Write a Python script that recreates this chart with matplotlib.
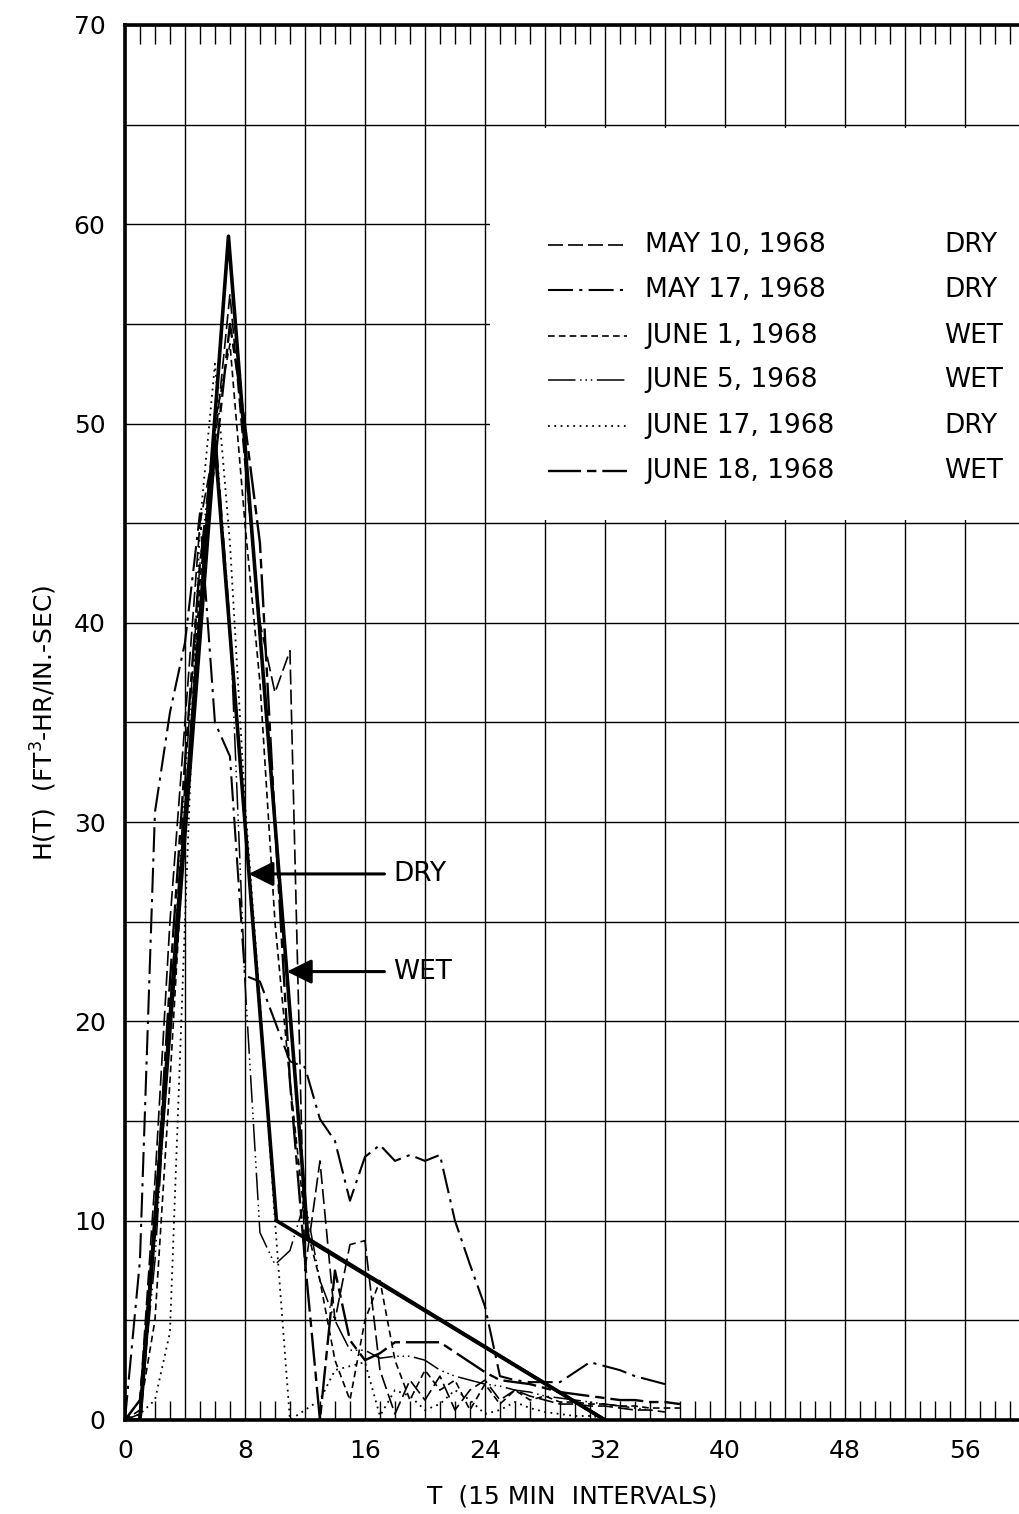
import numpy as np
import matplotlib
matplotlib.use("Agg")
import matplotlib.pyplot as plt
from matplotlib.patches import Rectangle
from matplotlib.ticker import MultipleLocator

# storm hydrographs, ordinates at each 15 min interval
may10 = [0, 1, 12, 25, 35, 45, 49, 56.5, 48, 40, 36.5, 38.6, 7.5, 13, 5, 8.8, 9, 2.5,
         0.3, 2, 1, 2.2, 0.5, 1.5, 2, 1, 1.5, 1.2, 1, 0.8, 0.8, 0.7, 0.7, 0.6, 0.5, 0.5, 0.4]
may17 = [0, 8, 30.5, 35.5, 39, 45.5, 35, 33.3, 22.3, 22, 20, 18, 17.7, 15.1, 14, 11, 13.2,
         13.8, 13, 13.3, 13, 13.3, 10, 7.8, 5.7, 2.2, 2, 1.9, 1.9, 1.9, 2.4, 2.9, 2.7, 2.5,
         2.2, 2, 1.8]
june1 = [0, 0.5, 5, 17, 30, 42, 50, 54, 45, 37, 25, 17, 10, 7, 3, 1, 5, 7, 3, 1, 2.5, 1.5,
         2, 0.5, 1.8, 0.8, 1.5, 1, 1.2, 0.9, 0.9, 0.8, 0.8, 0.7, 0.7, 0.6, 0.6, 0.6]
june5 = [0, 0.3, 8, 20, 32, 43, 50, 40, 22, 9.4, 7.8, 8.5, 11, 7, 5, 3.5, 3.5, 3.1, 3.2,
         3.2, 3, 2.5, 2.2, 2, 1.8, 1.7, 1.5, 1.4, 1.2, 1.1, 1, 0.9, 0.8, 0.7, 0.6, 0.5]
june17 = [0, 0.3, 1, 4.4, 25, 45, 53, 44, 31, 21, 10, 0, 0.5, 1, 2.5, 2.7, 2.9, 0.2, 1.5,
          1.2, 0.5, 0.8, 1.5, 1, 0.3, 0.5, 0.9, 0.6, 0.4, 0.3, 0.2, 0.2, 0.1]
june18 = [0, 1, 10, 22, 33, 43, 48, 55, 50, 44, 30, 17, 8, 0, 7.5, 4, 3, 3.35, 3.9, 3.9,
          3.9, 3.9, 3.4, 2.9, 2.4, 2, 1.9, 1.8, 1.6, 1.4, 1.3, 1.2, 1.1, 1, 1, 0.9, 0.9, 0.8]

# synthetic unit hydrographs
dry_t = [0, 1, 6, 10.1, 32]
dry_h = [0, 0, 49, 10, 0]
wet_t = [0, 1, 6.9, 12.2, 32]
wet_h = [0, 0, 59.4, 9.1, 0]

dates = ["MAY 10, 1968", "MAY 17, 1968", "JUNE 1, 1968", "JUNE 5, 1968",
         "JUNE 17, 1968", "JUNE 18, 1968"]
conds = ["DRY", "DRY", "WET", "WET", "DRY", "WET"]
series = [may10, may17, june1, june5, june17, june18]
dashes = [(9, 3), (12, 3, 1.5, 3), (4, 2.5), (18, 3, 1, 2.5, 1, 2.5, 1, 3),
          (1, 2.5), (14, 2.5, 4, 2.5)]
widths = [1.2, 1.5, 1.2, 1.1, 1.3, 1.7]

fig = plt.figure(figsize=(10.2, 15.14), dpi=100)
ax = fig.add_axes([0.1225, 0.0621, 0.8775, 0.9214])
ax.set_xlim(0, 59.67)
ax.set_ylim(0, 70)

# grid
ax.xaxis.set_major_locator(MultipleLocator(4))
ax.yaxis.set_major_locator(MultipleLocator(5))
ax.xaxis.set_minor_locator(MultipleLocator(1))
ax.set_xticklabels([f"{int(v)}" if v % 8 == 0 else "" for v in ax.get_xticks()])
ax.set_yticklabels([f"{int(v)}" if v % 10 == 0 else "" for v in ax.get_yticks()])
ax.grid(True, which="major", color="black", lw=1.0)
ax.set_axisbelow(True)
ax.tick_params(which="major", length=0, labelsize=18, pad=14)
ax.tick_params(which="minor", direction="in", length=14, width=1.0,
               top=True, bottom=True, left=False, right=False)
for s in ["left", "top", "bottom"]:
    ax.spines[s].set_linewidth(2.6)
ax.spines["right"].set_visible(False)

# blank panel behind the key
ax.add_patch(Rectangle((24.35, 45.15), 36, 19.7, facecolor="white",
                       edgecolor="none", zorder=1))

for h, d, w in zip(series, dashes, widths):
    t = np.arange(len(h))
    ax.plot(t, h, color="black", lw=w, dashes=d, zorder=3)

ax.plot(dry_t, dry_h, color="black", lw=2.6, zorder=4)
ax.plot(wet_t, wet_h, color="black", lw=2.6, zorder=4)

# key
key_y = [58.96, 56.7, 54.4, 52.2, 49.9, 47.6]
for y, d, w, date, c in zip(key_y, dashes, widths, dates, conds):
    ax.plot([28.2, 33.5], [y, y], color="black", lw=w, dashes=d, zorder=3)
    ax.text(34.7, y, date, fontsize=19, va="center", ha="left", zorder=3)
    ax.text(54.6, y, c, fontsize=19, va="center", ha="left", zorder=3)

# arrows to the unit hydrographs
arrow = dict(arrowstyle="-|>,head_length=0.6,head_width=0.3",
             mutation_scale=25, lw=2.2, color="black", shrinkA=0, shrinkB=0)
ax.annotate("", xy=(8.25, 27.4), xytext=(17.3, 27.4), arrowprops=arrow, zorder=5)
ax.annotate("", xy=(10.8, 22.5), xytext=(17.3, 22.5), arrowprops=arrow, zorder=5)
ax.text(17.9, 27.4, "DRY", fontsize=19, va="center", ha="left")
ax.text(17.9, 22.5, "WET", fontsize=19, va="center", ha="left")

ax.set_xlabel("T  (15 MIN  INTERVALS)", fontsize=18)
ax.set_ylabel("H(T)  (FT$^3$-HR/IN.-SEC)", fontsize=18)
ax.xaxis.set_label_coords(0.5, -0.046)
ax.yaxis.set_label_coords(-0.074, 0.5)

fig.savefig("out.png", dpi=100)
